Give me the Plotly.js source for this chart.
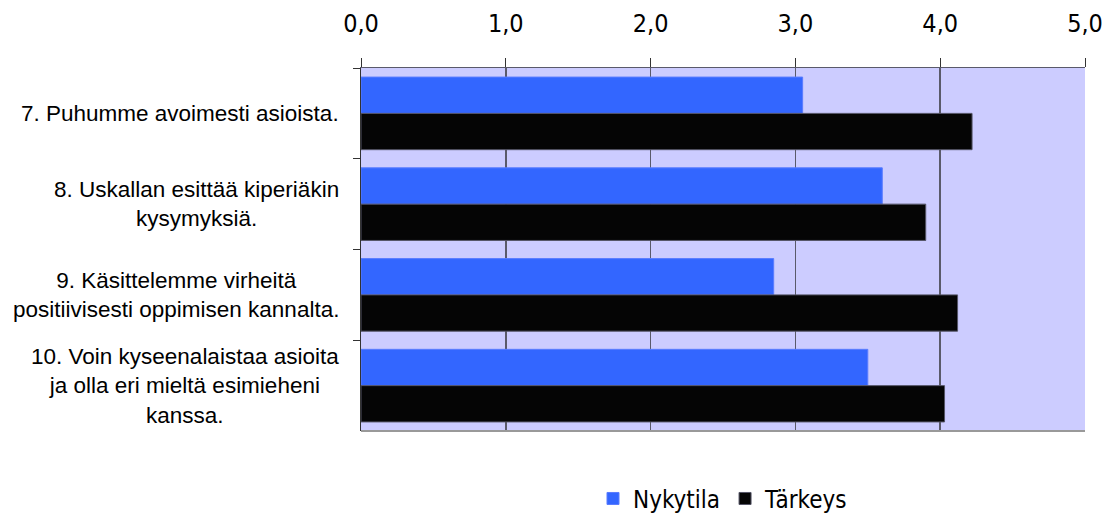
<!DOCTYPE html>
<html><head><meta charset="utf-8">
<script src="https://cdn.plot.ly/plotly-3.0.1.min.js"></script>
<style>body{margin:0;background:#fff}#c{width:1116px;height:524px}</style>
</head><body><div id="c"></div>
<script>
const categories = ["7. Puhumme avoimesti asioista.",
  "8. Uskallan esittää kiperiäkin<br>kysymyksiä.",
  "9. Käsittelemme virheitä<br>positiivisesti oppimisen kannalta.",
  "10. Voin kyseenalaistaa asioita<br>ja olla eri mieltä esimieheni<br>kanssa."];
const nykytila = [3.05, 3.60, 2.85, 3.50];
const tarkeys = [4.22, 3.90, 4.12, 4.03];
const seriesNames = ["Nykytila", "Tärkeys"];

const traces = [
  {type:'bar', orientation:'h', name:seriesNames[0], y:categories, x:nykytila,
   marker:{color:'#3366FF', line:{color:'#5a7cff', width:1}}, hoverinfo:'x'},
  {type:'bar', orientation:'h', name:seriesNames[1], y:categories, x:tarkeys,
   marker:{color:'#050505', line:{color:'#555566', width:1}}, hoverinfo:'x'}
];
const annotations = categories.map(c => ({
  xref:'paper', yref:'y', x:-0.028, y:c, xanchor:'right', yanchor:'middle',
  text:c, showarrow:false, align:'center',
  font:{family:'Liberation Sans, Arial, sans-serif', size:22.5, color:'#000'}
}));
const layout = {
  width:1116, height:524,
  margin:{l:361, r:31, t:68, b:93, pad:0, autoexpand:false},
  paper_bgcolor:'#ffffff', plot_bgcolor:'#CCCCFF',
  separators:', ',
  barmode:'group', bargap:0.2, bargroupgap:0,
  showlegend:true,
  legend:{orientation:'h', x:0.5, xanchor:'center', yref:'container', y:0.005, yanchor:'bottom',
    font:{family:'DejaVu Sans Condensed, DejaVu Sans, sans-serif', size:24, color:'#000'},
    itemwidth:30, tracegroupgap:0},
  xaxis:{side:'top', range:[0,5], dtick:1, tick0:0, tickformat:'.1f',
    showgrid:true, gridcolor:'#5a5a6a', gridwidth:1.5,
    showline:true, linecolor:'#5a5a6a', linewidth:1.5, mirror:false,
    ticks:'outside', ticklen:9, tickcolor:'#333', tickwidth:1,
    ticklabelstandoff:16, automargin:false,
    tickfont:{family:'DejaVu Sans Condensed, DejaVu Sans, sans-serif', size:25, color:'#000'},
    zeroline:false, fixedrange:true},
  yaxis:{type:'category', autorange:'reversed', showticklabels:false,
    ticks:'outside', tickson:'boundaries', ticklen:7, tickcolor:'#333',
    showline:true, linecolor:'#333', linewidth:1.5, showgrid:false, zeroline:false,
    fixedrange:true, automargin:false},
  shapes:[{type:'line', xref:'paper', yref:'paper', x0:0, x1:1, y0:0, y1:0,
    line:{color:'#999999', width:2}}],
  annotations:annotations
};
Plotly.newPlot('c', traces, layout, {displayModeBar:false, staticPlot:true});
</script></body></html>
